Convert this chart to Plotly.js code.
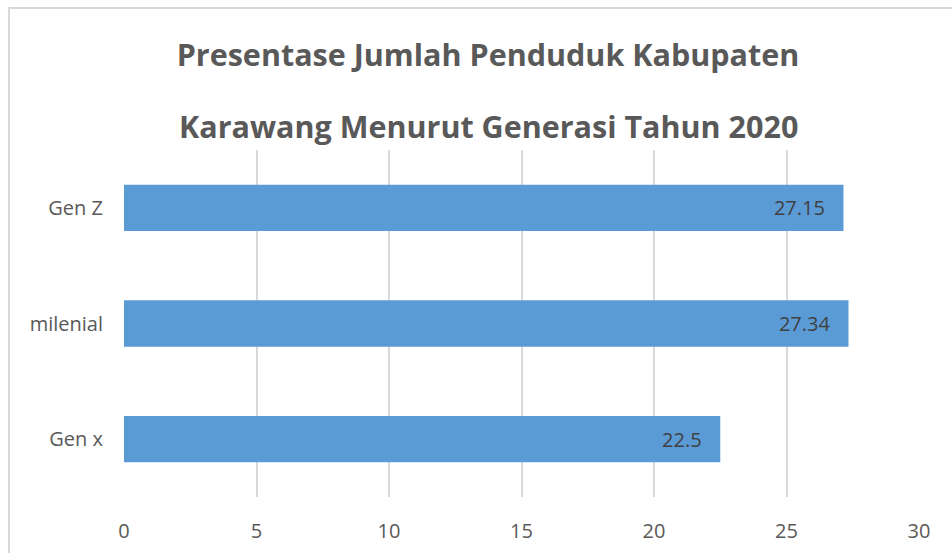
<!DOCTYPE html>
<html>
<head>
<meta charset="utf-8">
<script src="https://cdn.plot.ly/plotly-3.0.1.min.js"></script>
<style>
  html, body { margin: 0; padding: 0; background: #fff; }
  #wrap { position: relative; width: 952px; height: 553px; overflow: hidden; }
  #frame { position: absolute; left: 8px; top: 7px; width: 1000px; height: 600px;
           border-left: 2px solid #d9d9d9; border-top: 2px solid #d9d9d9; box-sizing: border-box; pointer-events: none; }
  #chart { position: absolute; left: 0; top: 0; width: 952px; height: 553px; }
</style>
</head>
<body>
<div id="wrap">
  <div id="chart"></div>
  <div id="frame"></div>
</div>
<script>
const categories = ["Gen x", "milenial", "Gen Z"];
const values = [22.5, 27.34, 27.15];
const xTicks = [0, 5, 10, 15, 20, 25, 30];
const titleLine1 = "Presentase Jumlah Penduduk Kabupaten";
const titleLine2 = "Karawang Menurut Generasi Tahun 2020";

const font = "'Open Sans', 'Noto Sans', sans-serif";

const trace = {
  type: "bar",
  orientation: "h",
  y: categories,
  x: values,
  marker: { color: "#5b9bd5" },
  text: values.map(v => String(v) + "\u00a0\u00a0\u00a0"),
  textposition: "inside",
  insidetextanchor: "end",
  textfont: { family: font, size: 20, color: "#404040" },
  constraintext: "none",
  hoverinfo: "skip",
  cliponaxis: false
};

const titleX = 488 / 952;

const layout = {
  width: 952,
  height: 553,
  margin: { l: 124, r: 33, t: 150, b: 56 },
  paper_bgcolor: "#ffffff",
  plot_bgcolor: "#ffffff",
  showlegend: false,
  bargap: 0.6,
  title: {
    text: titleLine1,
    font: { family: font, size: 30.5, color: "#595959", weight: 700 },
    x: titleX, xref: "container", xanchor: "center",
    y: 0.9, yref: "container", yanchor: "middle"
  },
  annotations: [{
    text: titleLine2,
    xref: "paper", yref: "paper",
    x: (488 - 124) / 795, xanchor: "center",
    y: 1.0, yanchor: "bottom", yshift: 1,
    showarrow: false,
    font: { family: font, size: 30.5, color: "#595959", weight: 700 }
  }],
  xaxis: {
    range: [0, 30],
    tickvals: xTicks,
    ticktext: xTicks.map(String),
    showgrid: true,
    gridcolor: "#d9d9d9",
    gridwidth: 2,
    zeroline: false,
    showline: false,
    ticks: "",
    ticklabelstandoff: 20,
    tickfont: { family: font, size: 20, color: "#595959" },
    fixedrange: true
  },
  yaxis: {
    categoryorder: "array",
    categoryarray: categories,
    showgrid: false,
    zeroline: false,
    showline: false,
    ticks: "",
    ticklabelstandoff: 20,
    tickfont: { family: font, size: 20, color: "#595959" },
    fixedrange: true
  }
};

Plotly.newPlot("chart", [trace], layout, { displayModeBar: false, staticPlot: true });
</script>
</body>
</html>
